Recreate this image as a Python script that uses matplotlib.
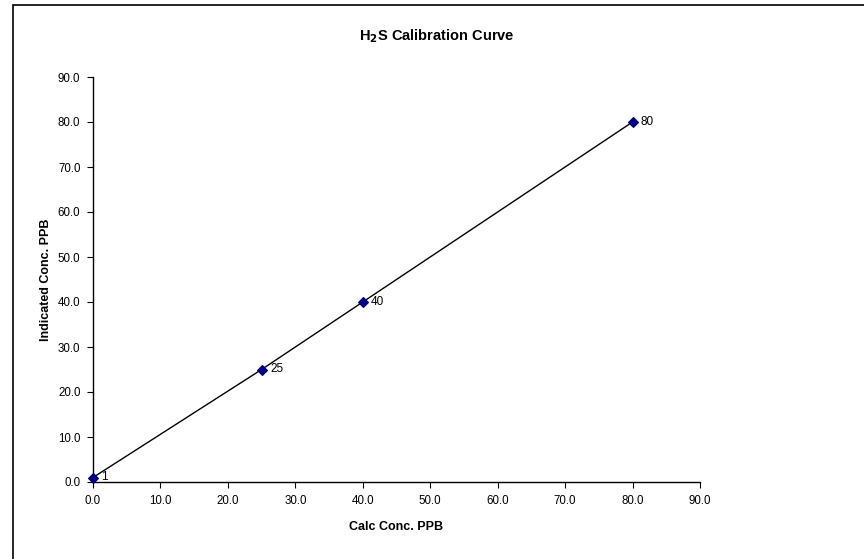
import matplotlib
matplotlib.use("Agg")
from matplotlib import pyplot as plt
from matplotlib.patches import Rectangle

matplotlib.rcParams['font.family'] = ['Liberation Sans', 'DejaVu Sans']

# calibration points
calc_conc = [0, 25, 40, 80]
indicated_conc = [1, 25, 40, 80]
point_labels = ["1", "25", "40", "80"]
ticks = [0, 10, 20, 30, 40, 50, 60, 70, 80, 90]

fig = plt.figure(figsize=(8.64, 5.59), dpi=100)
ax = fig.add_axes([93 / 864, 1 - 482 / 559, (700 - 93) / 864, (482 - 77) / 559])

ax.plot(calc_conc, indicated_conc, color="black", linewidth=1, zorder=2)
ax.scatter(calc_conc, indicated_conc, marker="D", s=24, color="#000080", zorder=3, clip_on=False)
for x, y, lab in zip(calc_conc, indicated_conc, point_labels):
    ax.annotate(lab, (x, y), xytext=(6, 0), textcoords="offset points",
                va="center", ha="left", fontsize=8.5)

ax.set_xlim(0, 90)
ax.set_ylim(0, 90)
ax.set_xticks(ticks)
ax.set_yticks(ticks)
ax.set_xticklabels([f"{t:.1f}" for t in ticks])
ax.set_yticklabels([f"{t:.1f}" for t in ticks])
ax.tick_params(direction="out", length=4, width=0.8, labelsize=8.3, colors="black", pad=5)
ax.spines['top'].set_visible(False)
ax.spines['right'].set_visible(False)
for s in ['left', 'bottom']:
    ax.spines[s].set_linewidth(1)

ax.set_xlabel("Calc Conc. PPB", fontsize=9, fontweight="bold", labelpad=10.5)
ax.set_ylabel("Indicated Conc. PPB", fontsize=9, fontweight="bold", labelpad=4)

fig.text(0.506, 0.935, r"H$_\mathbf{2}$S Calibration Curve", ha="center", va="center",
         fontsize=10.5, fontweight="bold")

# chart frame (cut off at the right and bottom like the original)
fig.patches.append(Rectangle((12.5 / 864, -0.1), 1.2, 1 - 5 / 559 + 0.1,
                             transform=fig.transFigure, fill=False,
                             edgecolor="black", linewidth=1.2))

plt.savefig("out.png", dpi=100)
